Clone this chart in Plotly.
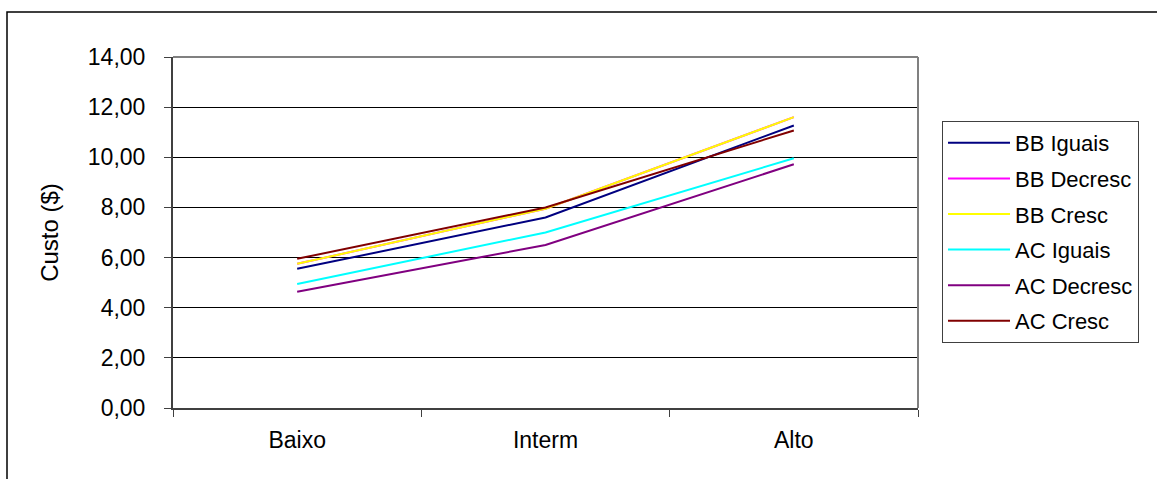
import plotly.graph_objects as go

# Cost levels on the horizontal axis
categorias = ["Baixo", "Interm", "Alto"]

# Cost per strategy ($)
bb_iguais = [5.55, 7.60, 11.27]
bb_decresc = [5.75, 7.95, 11.60]
bb_cresc = [5.75, 7.95, 11.60]
ac_iguais = [4.95, 7.00, 9.96]
ac_decresc = [4.64, 6.50, 9.72]
ac_cresc = [5.95, 8.00, 11.07]

nomes = ["BB Iguais", "BB Decresc", "BB Cresc", "AC Iguais", "AC Decresc", "AC Cresc"]
series = [bb_iguais, bb_decresc, bb_cresc, ac_iguais, ac_decresc, ac_cresc]
cores = ["#000080", "#FF00FF", "#FFFF00", "#00FFFF", "#800080", "#800000"]

W, H = 1157, 479
ML, MR, MT, MB = 173, 239, 57, 71
PW, PH = W - ML - MR, H - MT - MB


def px_x(px):
    return (px - ML) / PW


def px_y(py):
    return (H - py - MB) / PH


FONT = "Liberation Sans, Arial, sans-serif"

fig = go.Figure()
for i, (nome, vals, cor) in enumerate(zip(nomes, series, cores)):
    fig.add_trace(go.Scatter(
        x=categorias, y=vals, name=nome, mode="lines",
        line=dict(color=cor, width=2),
        legendgroup=f"g{i}",
    ))

fig.update_layout(
    width=W, height=H,
    margin=dict(l=ML, r=MR, t=MT, b=MB, pad=0),
    paper_bgcolor="white", plot_bgcolor="white",
    separators=",.",
    font=dict(family=FONT, color="black"),
    showlegend=True,
    legend=dict(
        x=px_x(942), xanchor="left",
        y=px_y(121), yanchor="top",
        bordercolor="#404040", borderwidth=1,
        bgcolor="white",
        font=dict(size=22, family=FONT, color="black"),
        itemwidth=62,
        tracegroupgap=4,
        traceorder="grouped",
    ),
    xaxis=dict(
        type="category", range=[-0.5, 2.5],
        showgrid=False, zeroline=False,
        showline=True, linecolor="#404040", linewidth=2,
        ticks="outside", tickson="boundaries", ticklen=7,
        tickcolor="#404040", tickwidth=1,
        tickfont=dict(size=23, family=FONT, color="black"),
        ticklabelstandoff=10,
    ),
    yaxis=dict(
        range=[0, 14], dtick=2, tickformat=".2f",
        showgrid=True, gridcolor="#000000", gridwidth=1,
        zeroline=False,
        showline=True, linecolor="#404040", linewidth=2,
        ticks="outside", ticklen=7, tickcolor="#404040", tickwidth=1,
        tickfont=dict(size=23, family=FONT, color="black"),
        ticklabelstandoff=14,
        title=dict(text="Custo ($)", font=dict(size=24, family=FONT, color="black"),
                   standoff=22),
    ),
    shapes=[
        # outer chart frame
        dict(type="rect", xref="paper", yref="paper",
             x0=px_x(7), x1=px_x(1170), y0=px_y(495), y1=px_y(12),
             line=dict(color="black", width=1.5), layer="below"),
        # plot area border (top and right)
        dict(type="line", xref="paper", yref="paper",
             x0=0, x1=1, y0=1, y1=1, line=dict(color="#808080", width=2)),
        dict(type="line", xref="paper", yref="paper",
             x0=1, x1=1, y0=0, y1=1, line=dict(color="#808080", width=2)),
    ],
)

fig.write_html("out.html")
